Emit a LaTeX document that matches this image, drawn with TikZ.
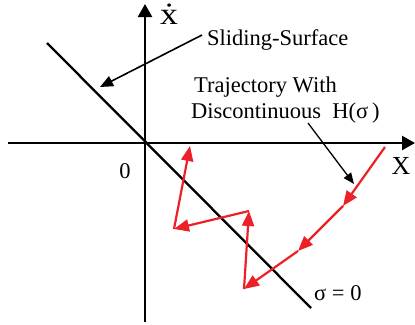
\documentclass[tikz,border=0pt]{standalone}
\usepackage{fontspec}
\setmainfont{Liberation Serif}
\usetikzlibrary{arrows.meta}
\definecolor{trajred}{RGB}{236,32,38}
\begin{document}
\begin{tikzpicture}[x=1pt,y=-1pt,
  axis/.style={line width=2.3pt,-{Triangle[length=13pt,width=14pt]}},
  surf/.style={line width=2.3pt},
  pointer/.style={line width=1.6pt,-{Triangle[length=13pt,width=11pt]}},
  smallptr/.style={line width=1.3pt,-{Triangle[length=11pt,width=9pt]}},
  traj/.style={trajred,line width=2.2pt,-{Triangle[length=15pt,width=12pt]}},
  lbl/.style={inner sep=0pt,font=\fontsize{22.5}{27}\selectfont}]
\useasboundingbox (0,0) rectangle (415,324);
% axes
\coordinate (xs) at (8,143);
\coordinate (xe) at (415,143);
\coordinate (ys) at (145,322);
\coordinate (ye) at (145,4);
\draw[axis] (xs) -- (xe);
\draw[axis] (ys) -- (ye);
% sliding surface
\coordinate (s1) at (47,43);
\coordinate (s2) at (311,308);
\draw[surf] (s1) -- (s2);
% labels
\node[lbl,font=\fontsize{31}{35}\selectfont,xscale=1.15] (xdot) at (169,14) {\.{x}};
\node[lbl,font=\fontsize{26}{30}\selectfont] (xlab) at (401,166) {X};
\node[lbl] (zero) at (125,171) {0};
\node[lbl,anchor=west] (sig) at (314,293) {σ = 0};
\node[lbl,anchor=west] (slide) at (207,40) {Sliding-Surface};
\node[lbl,anchor=west] (traj1) at (194,87) {Trajectory With};
\node[lbl,anchor=west] (traj2) at (191,113) {Discontinuous\ \ H(σ\,)};
% pointers
\coordinate (sp0) at (202,35);
\coordinate (sp1) at (100,87);
\draw[pointer] (sp0) -- (sp1);
\coordinate (tp0) at (308,123);
\coordinate (tp1) at (354,184);
\draw[smallptr] (tp0) -- (tp1);
% trajectory
\coordinate (r0) at (385,147);
\coordinate (r1) at (343,206);
\coordinate (r2) at (298,251);
\coordinate (r3) at (244,289);
\coordinate (r4) at (249,211);
\coordinate (r5) at (174,229);
\coordinate (r6) at (190,146);
\draw[traj] (r0) -- (r1);
\draw[traj] (r1) -- (r2);
\draw[traj] (r2) -- (r3);
\draw[traj] (r3) -- (r4);
\draw[traj] (r4) -- (r5);
\draw[traj] (r5) -- (r6);
\end{tikzpicture}
\end{document}
